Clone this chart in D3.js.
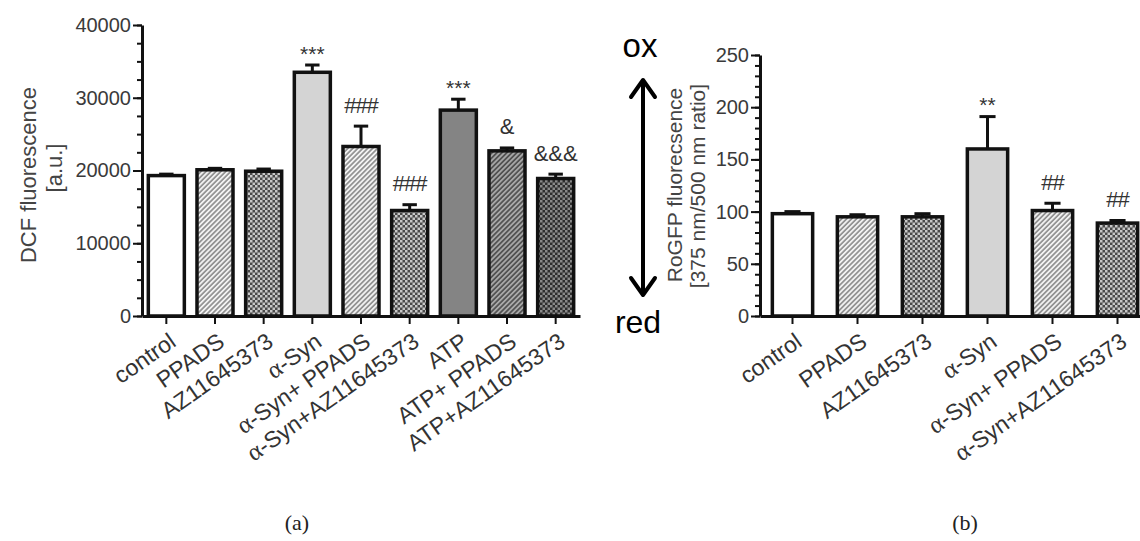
<!DOCTYPE html>
<html>
<head>
<meta charset="utf-8">
<script src="https://cdn.jsdelivr.net/npm/d3@7"></script>
<style>
  body { margin: 0; background: #fff; }
  svg { display: block; font-family: "Liberation Sans", Arial, sans-serif; }
</style>
</head>
<body>
<div id="chart"></div>
<script>
// panel (a): DCF fluorescence
const catsA = ['control', 'PPADS', 'AZ11645373', 'α-Syn', 'α-Syn+ PPADS', 'α-Syn+AZ11645373', 'ATP', 'ATP+ PPADS', 'ATP+AZ11645373'];
const dcfMean = [19300, 20100, 19900, 33500, 23300, 14500, 28300, 22700, 18900];
const dcfErr = [200, 200, 300, 1000, 2800, 800, 1500, 400, 600];
const dcfSig = ['', '', '', '***', '###', '###', '***', '&', '&&&'];
const fillA = ['white', 'hatch', 'check', 'light', 'hatch', 'check', 'dark', 'hatchDark', 'checkDark'];
const ticksA = [0, 10000, 20000, 30000, 40000];

// panel (b): RoGFP ratio
const catsB = ['control', 'PPADS', 'AZ11645373', 'α-Syn', 'α-Syn+ PPADS', 'α-Syn+AZ11645373'];
const rogfpMean = [98, 95, 95, 160, 101, 89];
const rogfpErr = [2, 2, 3, 31, 7, 2.5];
const rogfpSig = ['', '', '', '**', '##', '##'];
const fillB = ['white', 'hatch', 'check', 'light', 'hatch', 'check'];
const ticksB = [0, 50, 100, 150, 200, 250];

const svg = d3.select('#chart').append('svg')
  .attr('width', 1140)
  .attr('height', 541);

// fill patterns
const defs = svg.append('defs');
function hatch(id, bg, fg) {
  const p = defs.append('pattern').attr('id', id)
    .attr('patternUnits', 'userSpaceOnUse')
    .attr('width', 3.5).attr('height', 3.5)
    .attr('patternTransform', 'rotate(45)');
  p.append('rect').attr('width', 3.5).attr('height', 3.5).attr('fill', bg);
  p.append('line').attr('x1', 0.9).attr('x2', 0.9).attr('y1', 0).attr('y2', 3.5)
    .attr('stroke', fg).attr('stroke-width', 1.6);
}
function check(id, bg, fg) {
  const p = defs.append('pattern').attr('id', id)
    .attr('patternUnits', 'userSpaceOnUse')
    .attr('width', 5).attr('height', 5);
  p.append('rect').attr('width', 5).attr('height', 5).attr('fill', bg);
  p.append('rect').attr('width', 2.5).attr('height', 2.5).attr('fill', fg);
  p.append('rect').attr('x', 2.5).attr('y', 2.5).attr('width', 2.5).attr('height', 2.5).attr('fill', fg);
}
hatch('hatch', '#f2f2f2', '#8a8a8a');
check('check', '#4a4a4a', '#c8c8c8');
hatch('hatchDark', '#a8a8a8', '#4a4a4a');
check('checkDark', '#2e2e2e', '#8a8a8a');

const fills = {
  white: '#ffffff',
  light: '#d4d4d4',
  dark: '#848484',
  hatch: 'url(#hatch)',
  check: 'url(#check)',
  hatchDark: 'url(#hatchDark)',
  checkDark: 'url(#checkDark)'
};

function drawPanel(cfg) {
  const x = d3.scaleBand().domain(cfg.cats)
    .range([cfg.x0, cfg.x1])
    .paddingInner(cfg.pad).paddingOuter(cfg.pad / 2);
  const y = d3.scaleLinear().domain([0, cfg.max]).range([cfg.y0, cfg.y1]);
  const g = svg.append('g');

  // minor ticks
  g.append('g')
    .attr('transform', `translate(${cfg.x0},0)`)
    .call(d3.axisLeft(y).tickValues(d3.range(0, cfg.max + 1, cfg.minor)).tickSize(5).tickFormat(''))
    .call(a => a.select('.domain').remove())
    .call(a => a.selectAll('line').attr('stroke', '#111').attr('stroke-width', 2));

  // major ticks + labels
  g.append('g')
    .attr('transform', `translate(${cfg.x0},0)`)
    .call(d3.axisLeft(y).tickValues(cfg.ticks).tickSize(9).tickSizeOuter(0).tickPadding(2).tickFormat(d3.format('d')))
    .call(a => a.select('.domain').attr('stroke', '#111').attr('stroke-width', 3))
    .call(a => a.selectAll('line').attr('stroke', '#111').attr('stroke-width', 2))
    .call(a => a.selectAll('text').attr('font-size', 20).attr('fill', '#3a3a3a')
      .attr('font-family', '"Liberation Sans", Arial, sans-serif'));

  // x axis
  const xa = g.append('g')
    .attr('transform', `translate(0,${cfg.y0})`)
    .call(d3.axisBottom(x).tickSize(8).tickSizeOuter(0).tickFormat(''));
  xa.select('.domain').attr('stroke', '#111').attr('stroke-width', 3);
  xa.selectAll('line').attr('stroke', '#111').attr('stroke-width', 2);

  // rotated category labels, α set in a serif face
  cfg.cats.forEach(c => {
    const t = g.append('text')
      .attr('text-anchor', 'end')
      .attr('font-size', 23)
      .attr('fill', '#333')
      .attr('transform', `translate(${x(c) + x.bandwidth() / 2 + 11},${cfg.y0 + 29}) rotate(-35)`);
    const parts = c.split('α');
    parts.forEach((p, i) => {
      if (i > 0) t.append('tspan').attr('font-family', '"Liberation Serif", serif').attr('font-size', 25).text('α');
      if (p) t.append('tspan').text(p);
    });
  });

  // bars
  g.selectAll('.bar').data(cfg.cats).enter().append('rect')
    .attr('class', 'bar')
    .attr('x', c => x(c))
    .attr('width', x.bandwidth())
    .attr('y', (c, i) => y(cfg.mean[i]))
    .attr('height', (c, i) => cfg.y0 - y(cfg.mean[i]))
    .attr('fill', (c, i) => fills[cfg.fill[i]])
    .attr('stroke', '#111')
    .attr('stroke-width', 3.5);

  // upper error bars
  cfg.cats.forEach((c, i) => {
    const cx = x(c) + x.bandwidth() / 2;
    const top = y(cfg.mean[i] + cfg.err[i]);
    g.append('line').attr('x1', cx).attr('x2', cx)
      .attr('y1', y(cfg.mean[i])).attr('y2', top)
      .attr('stroke', '#111').attr('stroke-width', 3);
    g.append('line').attr('x1', cx - x.bandwidth() * 0.2).attr('x2', cx + x.bandwidth() * 0.2)
      .attr('y1', top).attr('y2', top)
      .attr('stroke', '#111').attr('stroke-width', 3);
    if (cfg.sig[i]) {
      const s = cfg.sig[i];
      const star = s[0] === '*';
      g.append('text')
        .attr('x', cx)
        .attr('y', top - 21 + (star ? 9 : 0))
        .attr('text-anchor', 'middle')
        .attr('dominant-baseline', 'central')
        .attr('font-size', star ? 21 : 22)
        .attr('fill', '#333')
        .attr('letter-spacing', s[0] === '#' ? -1 : 0)
        .text(s);
    }
  });

  // y axis title
  cfg.title.forEach(tl => {
    svg.append('text')
      .attr('transform', `translate(${tl.x},${tl.y}) rotate(-90)`)
      .attr('text-anchor', 'middle')
      .attr('font-size', tl.size)
      .attr('fill', '#444')
      .text(tl.text);
  });
}

drawPanel({
  cats: catsA, mean: dcfMean, err: dcfErr, sig: dcfSig, fill: fillA,
  ticks: ticksA, max: 40000, minor: 2500,
  x0: 142, x1: 580, y0: 316, y1: 25, pad: 0.26,
  title: [
    { text: 'DCF fluorescence', x: 36, y: 175, size: 22 },
    { text: '[a.u.]', x: 62, y: 168, size: 22 }
  ]
});

drawPanel({
  cats: catsB, mean: rogfpMean, err: rogfpErr, sig: rogfpSig, fill: fillB,
  ticks: ticksB, max: 250, minor: 10,
  x0: 760, x1: 1150, y0: 316, y1: 55, pad: 0.38,
  title: [
    { text: 'RoGFP fluorecsence', x: 682, y: 185, size: 21 },
    { text: '[375 nm/500 nm ratio]', x: 705, y: 186, size: 21 }
  ]
});

// ox / red double arrow
const arrowX = 643, arrowTop = 80, arrowBot = 295;
const arr = svg.append('g').attr('stroke', '#000').attr('stroke-width', 4).attr('fill', 'none')
  .attr('stroke-linecap', 'round').attr('stroke-linejoin', 'round');
arr.append('line').attr('x1', arrowX).attr('x2', arrowX).attr('y1', arrowTop + 2).attr('y2', arrowBot - 2);
arr.append('path').attr('d', d3.line()([[arrowX - 12, arrowTop + 17], [arrowX, arrowTop], [arrowX + 12, arrowTop + 17]]));
arr.append('path').attr('d', d3.line()([[arrowX - 12, arrowBot - 17], [arrowX, arrowBot], [arrowX + 12, arrowBot - 17]]));
svg.append('text').attr('x', 640).attr('y', 57).attr('text-anchor', 'middle')
  .attr('font-size', 33).attr('fill', '#000').text('ox');
svg.append('text').attr('x', 638).attr('y', 333).attr('text-anchor', 'middle')
  .attr('font-size', 32).attr('fill', '#000').text('red');

// panel captions
svg.append('text').attr('x', 297).attr('y', 530).attr('text-anchor', 'middle')
  .attr('font-family', '"Liberation Serif", "DejaVu Serif", serif').attr('font-size', 22).attr('fill', '#222').text('(a)');
svg.append('text').attr('x', 965).attr('y', 530).attr('text-anchor', 'middle')
  .attr('font-family', '"Liberation Serif", "DejaVu Serif", serif').attr('font-size', 22).attr('fill', '#222').text('(b)');
</script>
</body>
</html>
